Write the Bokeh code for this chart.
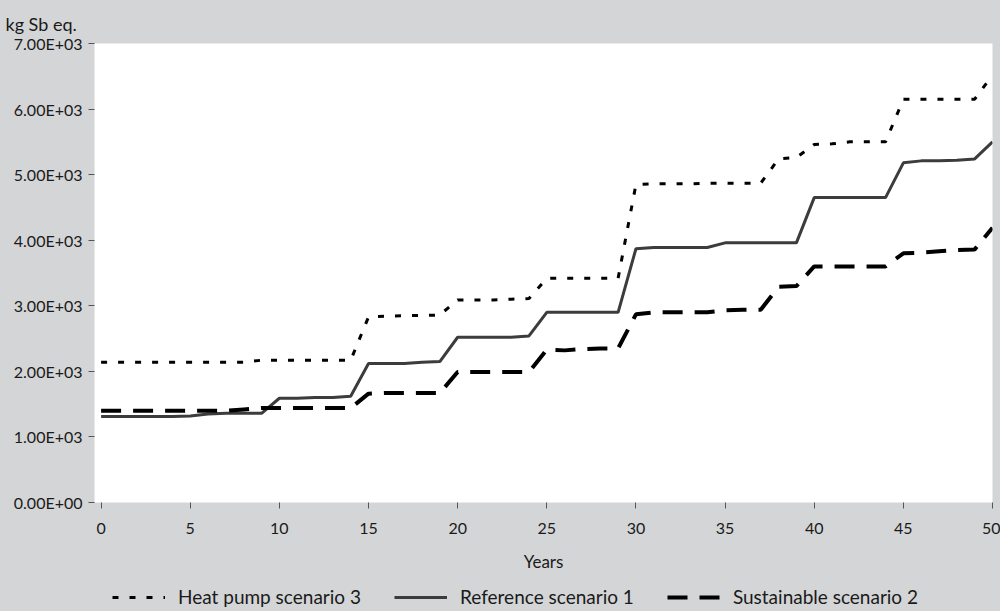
from bokeh.plotting import figure
from bokeh.layouts import column
from bokeh.models import Range1d, FixedTicker, Legend, LegendItem
from bokeh.embed import file_html
from bokeh.resources import INLINE

years = list(range(51))

heat_pump = [2140, 2140, 2140, 2140, 2140, 2140, 2140, 2140, 2140, 2170,
             2170, 2170, 2170, 2170, 2170, 2830, 2840, 2850, 2850, 2860,
             3090, 3090, 3090, 3100, 3110, 3420, 3420, 3420, 3420, 3420,
             4850, 4860, 4860, 4860, 4870, 4870, 4870, 4870, 5240, 5260,
             5460, 5470, 5500, 5500, 5500, 6150, 6150, 6150, 6150, 6150,
             6520]

reference = [1310, 1310, 1310, 1310, 1310, 1320, 1350, 1360, 1360, 1360,
             1590, 1590, 1600, 1600, 1620, 2120, 2120, 2120, 2140, 2150,
             2520, 2520, 2520, 2520, 2540, 2900, 2900, 2900, 2900, 2900,
             3870, 3890, 3890, 3890, 3890, 3960, 3960, 3960, 3960, 3960,
             4650, 4650, 4650, 4650, 4650, 5180, 5210, 5210, 5220, 5240,
             5500]

sustainable = [1400, 1400, 1400, 1400, 1400, 1400, 1400, 1400, 1420, 1440,
               1440, 1440, 1440, 1440, 1440, 1660, 1670, 1670, 1670, 1670,
               1990, 1990, 1990, 1990, 1990, 2330, 2320, 2340, 2350, 2350,
               2870, 2900, 2900, 2900, 2900, 2930, 2940, 2940, 3290, 3300,
               3600, 3600, 3600, 3600, 3600, 3800, 3810, 3830, 3850, 3860,
               4190]

series_names = ["Heat pump scenario 3", "Reference scenario 1", "Sustainable scenario 2"]
x_ticks = [0, 5, 10, 15, 20, 25, 30, 35, 40, 45, 50]
y_ticks = [0, 1000, 2000, 3000, 4000, 5000, 6000, 7000]
y_tick_labels = ["0.00E+00", "1.00E+03", "2.00E+03", "3.00E+03",
                 "4.00E+03", "5.00E+03", "6.00E+03", "7.00E+03"]

GRAY = "#d4d5d7"
FONT = "Lato"
TEXT = "#1a1a1a"

hp_style = dict(line_color="black", line_width=3, line_dash="6 11", line_cap="butt")
ref_style = dict(line_color="#3c3c3c", line_width=3)
sus_style = dict(line_color="black", line_width=4, line_dash="20 12", line_cap="butt")

p = figure(width=1000, height=575,
           x_range=Range1d(-0.37, 50), y_range=Range1d(0, 7000),
           output_backend="svg", toolbar_location=None,
           background_fill_color="white", border_fill_color=GRAY,
           min_border_left=94, min_border_right=8,
           min_border_top=43, min_border_bottom=73)
p.outline_line_color = None
p.xgrid.visible = False
p.ygrid.visible = False

p.line(years, heat_pump, **hp_style)
p.line(years, reference, **ref_style)
p.line(years, sustainable, **sus_style)

for ax in (p.xaxis[0], p.yaxis[0]):
    ax.axis_line_color = None
    ax.major_tick_line_color = "#555555"
    ax.major_tick_in = 0
    ax.major_tick_out = 6
    ax.minor_tick_line_color = None
    ax.major_label_text_font = FONT
    ax.major_label_text_font_size = "16px"
    ax.major_label_text_color = TEXT

p.xaxis.ticker = FixedTicker(ticks=x_ticks)
p.xaxis.major_label_standoff = 14
p.xaxis.axis_label = "Years"
p.xaxis.axis_label_text_font = FONT
p.xaxis.axis_label_text_font_size = "17px"
p.xaxis.axis_label_text_font_style = "normal"
p.xaxis.axis_label_text_color = TEXT
p.xaxis.axis_label_standoff = 14

p.yaxis.ticker = FixedTicker(ticks=y_ticks)
p.yaxis.major_label_overrides = {t: l for t, l in zip(y_ticks, y_tick_labels)}
p.yaxis.major_label_standoff = 6

p.title.text = "kg Sb eq."
p.title.align = "left"
p.title.offset = -89
p.title.standoff = 17
p.title.text_font = FONT
p.title.text_font_size = "18px"
p.title.text_font_style = "normal"
p.title.text_color = TEXT

# legend strip below the chart (its frame is aligned with the chart's frame)
lg = figure(width=1000, height=36, x_range=Range1d(0, 1), y_range=Range1d(0, 1),
            output_backend="svg", toolbar_location=None,
            x_axis_type=None, y_axis_type=None,
            background_fill_color=GRAY, border_fill_color=GRAY,
            min_border_left=0, min_border_right=0, min_border_top=0, min_border_bottom=0)
lg.outline_line_color = None
lg.xgrid.visible = False
lg.ygrid.visible = False
# sample lines kept outside the visible range: they only supply the legend swatches
swatch_x = [-5, -4]
swatch_y = [-5, -5]
l_hp = lg.line(swatch_x, swatch_y, **hp_style)
l_ref = lg.line(swatch_x, swatch_y, **ref_style)
l_sus = lg.line(swatch_x, swatch_y, **sus_style)

legend = Legend(items=[LegendItem(label=series_names[0], renderers=[l_hp]),
                       LegendItem(label=series_names[1], renderers=[l_ref]),
                       LegendItem(label=series_names[2], renderers=[l_sus])],
                orientation="horizontal", location=(18, 3),
                glyph_width=53, glyph_height=20, label_standoff=13, spacing=33,
                padding=0, margin=0, border_line_color=None,
                background_fill_alpha=0,
                label_text_font=FONT, label_text_font_size="19px",
                label_text_color=TEXT)
lg.add_layout(legend, "center")

page = column(p, lg, spacing=0)
page.styles = {"background-color": GRAY}

open("out.html", "w").write(file_html(page, INLINE))
